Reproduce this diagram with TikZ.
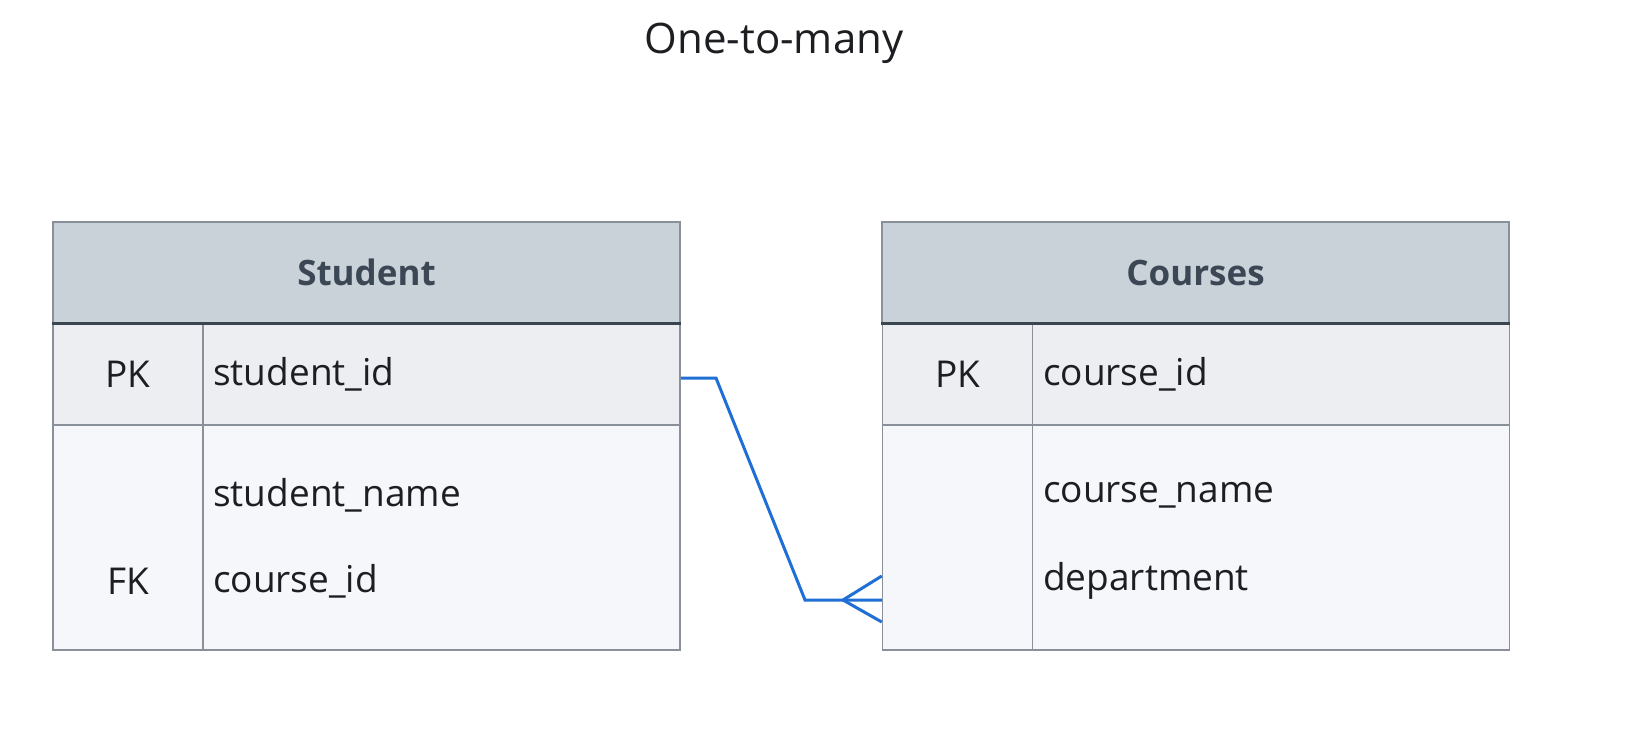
\documentclass[tikz,border=0pt]{standalone}
\usepackage{fontspec}
\setmainfont{Open Sans}
\usetikzlibrary{positioning}

\definecolor{headfill}{HTML}{C9D1D9}
\definecolor{keyfill}{HTML}{ECEEF2}
\definecolor{bodyfill}{HTML}{F5F7FA}
\definecolor{cellline}{HTML}{8A9099}
\definecolor{headline}{HTML}{3A4550}
\definecolor{headtext}{HTML}{3B4754}
\definecolor{celltext}{HTML}{1C1E21}
\definecolor{relblue}{HTML}{1F6FD6}

\begin{document}
\begin{tikzpicture}[x=1pt,y=-1pt]
\tikzset{
  cell/.style={draw=cellline,line width=1.5pt,rectangle,inner sep=0pt},
  head/.style={cell,fill=headfill,minimum width=627pt,minimum height=101pt,text=headtext,font=\fontsize{35}{42}\selectfont\bfseries},
  keycell/.style={cell,fill=keyfill,minimum height=102pt},
  bodycell/.style={cell,fill=bodyfill,minimum height=225pt},
  field/.style={anchor=west,inner sep=0pt,text=celltext,font=\fontsize{37}{44}\selectfont},
  tag/.style={inner sep=0pt,text=celltext,font=\fontsize{37}{44}\selectfont},
  rel/.style={draw=relblue,line width=3pt,line join=miter}
}
\useasboundingbox[fill=white] (0,0) rectangle (1629,747);

\node[text=celltext,font=\fontsize{42}{50}\selectfont] (title) at (774,43) {One-to-many};

% Student table
\node[keycell,minimum width=150pt] (spk) at (128,374) {};
\node[keycell,minimum width=477pt] (spkf) at (441.5,374) {};
\node[bodycell,minimum width=150pt] (sbk) at (128,537.5) {};
\node[bodycell,minimum width=477pt] (sbf) at (441.5,537.5) {};
\node[head] (shead) at (366.5,272.5) {Student};
\draw[headline,line width=3pt] (shead.south west) -- (shead.south east);
\node[tag] at (spk) {PK};
\node[field] (sid) at (213,374) {student\_id};
\node[field] (sname) at (213,495) {student\_name};
\node[field] (scid) at (213,581) {course\_id};
\node[tag] at (128,581) {FK};

% Courses table
\node[keycell,minimum width=150pt] (cpk) at (957.5,374) {};
\node[keycell,minimum width=477pt] (cpkf) at (1271,374) {};
\node[bodycell,minimum width=150pt] (cbk) at (957.5,537.5) {};
\node[bodycell,minimum width=477pt] (cbf) at (1271,537.5) {};
\node[head] (chead) at (1195.5,272.5) {Courses};
\draw[headline,line width=3pt] (chead.south west) -- (chead.south east);
\node[tag] at (cpk) {PK};
\node[field] (cid) at (1043,374) {course\_id};
\node[field] (cname) at (1043,495) {course\_name};
\node[field] (cdep) at (1043,581) {department};

% one-to-many link
\coordinate (s1) at (spkf.east |- 0,378);
\coordinate (s2) at (716,378);
\coordinate (s3) at (805,600);
\coordinate (foot) at (843,600);
\coordinate (c1) at (cbk.west |- 0,600);
\draw[rel] (s1) -- (s2) -- (s3) -- (c1);
\draw[rel] (cbk.west |- 0,576) -- (foot) -- (cbk.west |- 0,622);
\end{tikzpicture}
\end{document}
